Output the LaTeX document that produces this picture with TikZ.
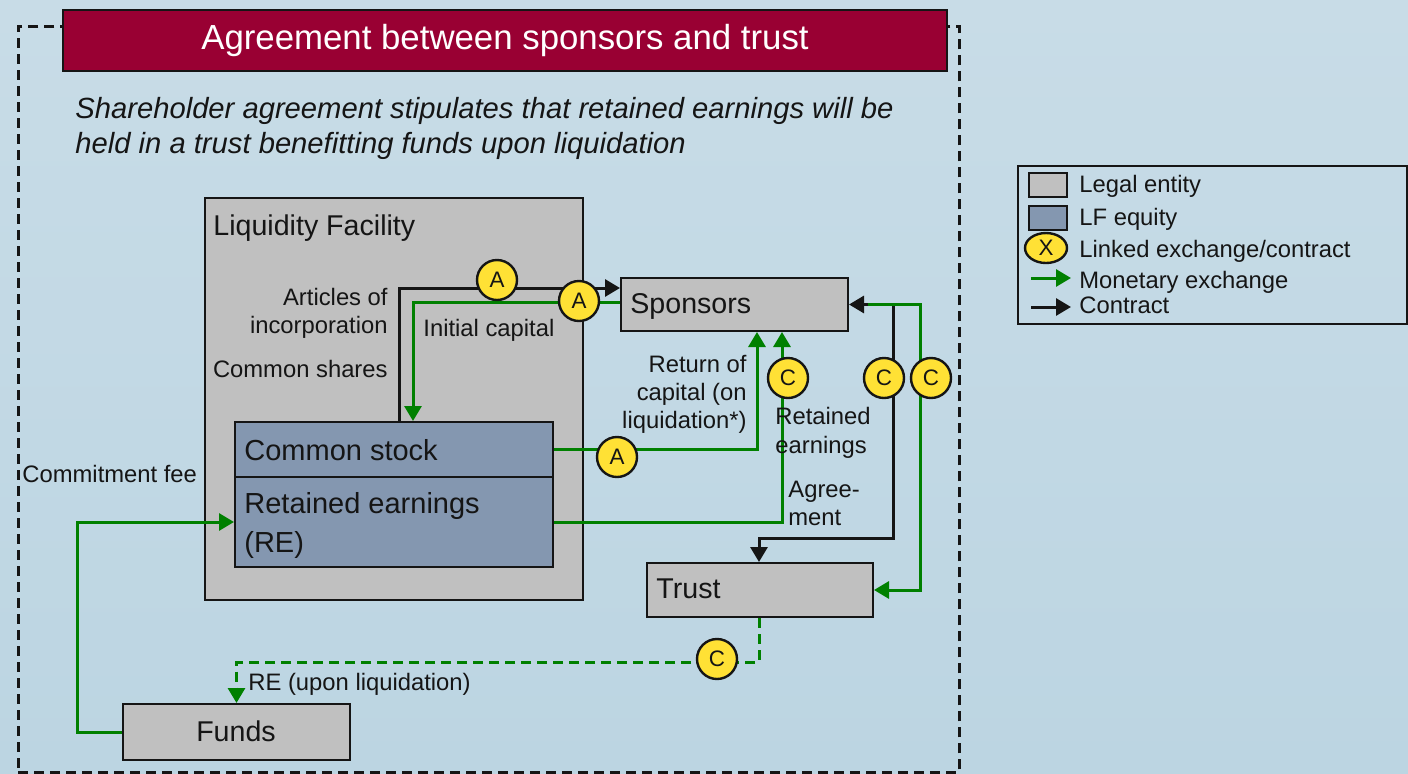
\documentclass[tikz,border=0pt]{standalone}
\usepackage{fontspec}
\setmainfont{Liberation Sans}
\usetikzlibrary{arrows.meta,calc,shapes.geometric}

\definecolor{bgtop}{HTML}{C8DCE7}
\definecolor{bgbot}{HTML}{BCD5E2}
\definecolor{hdr}{HTML}{990033}
\definecolor{entity}{HTML}{C0C0C0}
\definecolor{equity}{HTML}{8497B0}
\definecolor{marker}{HTML}{FFE135}
\definecolor{moneygreen}{HTML}{008000}
\definecolor{ink}{HTML}{151515}

\tikzset{
  every node/.style={text=ink},
  box/.style={draw=ink, line width=1pt, anchor=north west, inner sep=0pt},
  entitybox/.style={box, fill=entity},
  equitybox/.style={box, fill=equity},
  link/.style={circle, draw=ink, line width=1.2pt, fill=marker, minimum size=20pt,
    inner sep=0pt, font=\fontsize{11.2}{13}\selectfont},
  tip/.style={-{Triangle[length=7.5pt,width=8.5pt]}},
  moneyflow/.style={draw=moneygreen, line width=1.5pt, tip},
  contract/.style={draw=ink, line width=1.5pt, tip},
  lbl/.style={inner sep=0pt, font=\fontsize{11.9}{14}\selectfont},
  ent/.style={inner sep=0pt, font=\fontsize{14.3}{17}\selectfont},
  eq/.style={inner sep=0pt, font=\fontsize{14.5}{17}\selectfont},
}

\begin{document}
\begin{tikzpicture}[x=0.5pt, y=-0.5pt]
  % page and background
  \useasboundingbox (0,0) rectangle (1408,773);
  \fill[top color=bgtop, bottom color=bgbot] (0,0) rectangle (1408,773);

  % agreement frame and header
  \node[box, draw=ink, dashed, dash pattern=on 5pt off 3pt, line width=1.3pt,
        minimum width=470.5pt, minimum height=373pt] (frame) at (17,25) {};
  \node[box, fill=hdr, minimum width=442pt, minimum height=30.5pt,
        text=white, font=\fontsize{17.4}{20}\selectfont] (header) at (62,9)
        {Agreement between sponsors and trust};
  \node[inner sep=0pt, anchor=base west, font=\fontsize{14.6}{17}\selectfont\itshape] (sub1) at (75,118)
        {Shareholder agreement stipulates that retained earnings will be};
  \node[inner sep=0pt, anchor=base west, font=\fontsize{14.6}{17}\selectfont\itshape] (sub2) at (75,153)
        {held in a trust benefitting funds upon liquidation};

  % entities
  \node[entitybox, minimum width=189pt, minimum height=201pt] (lf) at (204,197) {};
  \node[ent, anchor=base west] (lfname) at (213,235) {Liquidity Facility};
  \node[equitybox, minimum width=159pt, minimum height=27.5pt] (cs) at (234,421) {};
  \node[equitybox, minimum width=159pt, minimum height=45pt] (re) at (234,476) {};
  \node[eq, anchor=base west] (csname) at (244,460) {Common stock};
  \node[eq, anchor=base west] (rename1) at (244,513) {Retained earnings};
  \node[eq, anchor=base west] (rename2) at (244,552) {(RE)};
  \node[entitybox, minimum width=113.5pt, minimum height=26.5pt] (sp) at (620,277) {};
  \node[ent, anchor=base west] (spname) at (630,313) {Sponsors};
  \node[entitybox, minimum width=113pt, minimum height=27pt] (tr) at (646,562) {};
  \node[ent, anchor=base west] (trname) at (656,598) {Trust};
  \node[entitybox, minimum width=113.5pt, minimum height=28pt] (fu) at (122,703) {};
  \node[ent, anchor=base] (funame) at (236,741) {Funds};

  % contracts
  \draw[contract] ($(cs.north west)+(165,0)$) |- ($(sp.north west)+(0,11)$);
  \draw[contract, {Triangle[length=7.5pt,width=8.5pt]}-{Triangle[length=7.5pt,width=8.5pt]}]
    (sp.east) -- ++(44,0) |- ($(tr.north west)+(113,-24)$) -- ($(tr.north west)+(113,0)$);

  % monetary exchanges
  \draw[moneyflow] ($(sp.north west)+(0,25)$) -| ($(cs.north west)+(179,0)$);
  \draw[moneyflow] (cs.east) -| ($(sp.south west)+(137,0)$);
  \draw[moneyflow] (re.east) -| ($(sp.south west)+(162,0)$);
  \draw[moneyflow] ($(sp.east)+(19,0)$) -- ++(52,0) |- (tr.east);
  \draw[moneyflow, dashed, dash pattern=on 5pt off 3pt]
    ($(tr.south west)+(113,0)$) -- ++(0,44) -| (fu.north);
  \draw[moneyflow] (fu.west) -- ++(-45,0) |- (re.west);

  % flow labels
  \node[lbl, anchor=base east] (art1) at (388,305) {Articles of};
  \node[lbl, anchor=base east] (art2) at (388,333) {incorporation};
  \node[lbl, anchor=base east] (shares) at (388,377) {Common shares};
  \node[lbl, anchor=base west] (initcap) at (423,336) {Initial capital};
  \node[lbl, anchor=base east] (ret1) at (747,372) {Return of};
  \node[lbl, anchor=base east] (ret2) at (747,400) {capital (on};
  \node[lbl, anchor=base east] (ret3) at (747,428) {liquidation*)};
  \node[lbl, anchor=base west] (rtd1) at (775,424) {Retained};
  \node[lbl, anchor=base west] (rtd2) at (775,453) {earnings};
  \node[lbl, anchor=base west] (agr1) at (788,497) {Agree-};
  \node[lbl, anchor=base west] (agr2) at (788,525) {ment};
  \node[lbl, anchor=base west] (fee) at (22,482) {Commitment fee};
  \node[lbl, anchor=base west] (reliq) at (248,690) {RE (upon liquidation)};

  % linked exchange markers
  \node[link] (a1) at (497,280) {A};
  \node[link] (a2) at (579,301) {A};
  \node[link] (a3) at (617,457) {A};
  \node[link] (c1) at (788,378) {C};
  \node[link] (c2) at (884,378) {C};
  \node[link] (c3) at (931,378) {C};
  \node[link] (c4) at (717,659) {C};

  % legend
  \node[box, fill=none, minimum width=194.5pt, minimum height=79pt] (legend) at (1017,165) {};
  \node[entitybox, minimum width=19pt, minimum height=12pt] (lgent) at (1028,172) {};
  \node[equitybox, minimum width=19pt, minimum height=12pt] (lgeq) at (1028,205) {};
  \node[ellipse, draw=ink, line width=1.2pt, fill=marker, minimum width=21pt, minimum height=15pt,
        inner sep=0pt, font=\fontsize{11.2}{13}\selectfont] (lglink) at (1046,248) {X};
  \coordinate (lgm1) at (1031,278);
  \coordinate (lgm2) at (1071,278);
  \coordinate (lgc1) at (1031,307);
  \coordinate (lgc2) at (1071,307);
  \draw[moneyflow] (lgm1) -- (lgm2);
  \draw[contract] (lgc1) -- (lgc2);
  \node[lbl, anchor=base west] (lgt1) at (1079,192) {Legal entity};
  \node[lbl, anchor=base west] (lgt2) at (1079,225) {LF equity};
  \node[lbl, anchor=base west] (lgt3) at (1079,257) {Linked exchange/contract};
  \node[lbl, anchor=base west] (lgt4) at (1079,288) {Monetary exchange};
  \node[lbl, anchor=base west] (lgt5) at (1079,313) {Contract};
\end{tikzpicture}
\end{document}
